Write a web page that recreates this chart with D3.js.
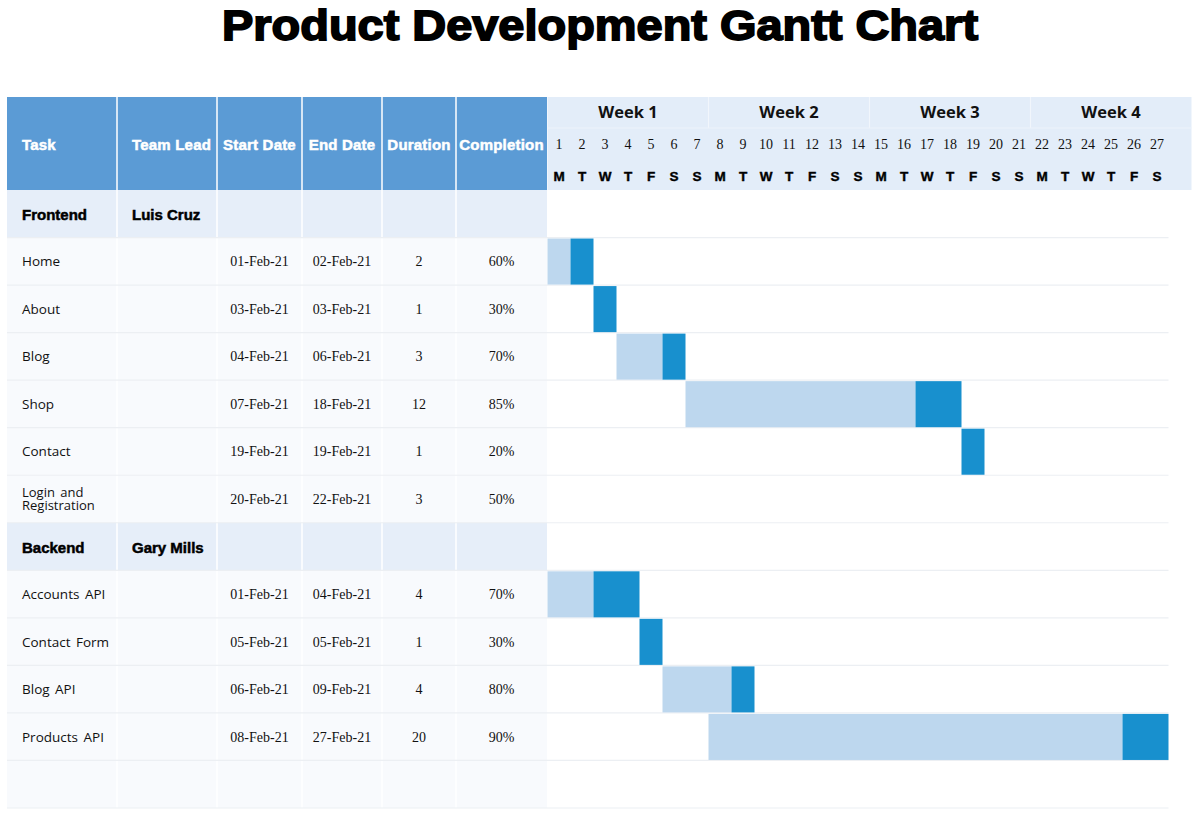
<!DOCTYPE html>
<html>
<head>
<meta charset="utf-8">
<script src="https://cdn.jsdelivr.net/npm/d3@7"></script>
<style>
  body { margin: 0; background: #fff; }
</style>
</head>
<body>
<div id="main"></div>
<script>
// chart data
const groupNames = ["Frontend", "Backend"];
const groupLeads = ["Luis Cruz", "Gary Mills"];
const taskNames = ["Home", "About", "Blog", "Shop", "Contact", "Login and Registration",
    "Accounts API", "Contact Form", "Blog API", "Products API"];
const taskGroup = [0, 0, 0, 0, 0, 0, 1, 1, 1, 1];
const startDay = [1, 3, 4, 7, 19, 20, 1, 5, 6, 8];
const endDay = [2, 3, 6, 18, 19, 22, 4, 5, 9, 27];
const durations = [2, 1, 3, 12, 1, 3, 4, 1, 4, 20];
const completion = [60, 30, 70, 85, 20, 50, 70, 30, 80, 90];
// bar as drawn in the picture: light part (done days) then dark part (remaining days)
// the "Login and Registration" row has no bar in the reference
const barDone = [1, 0, 2, 10, 0, null, 2, 0, 3, 18];
const barLeft = [1, 1, 1, 2, 1, null, 2, 1, 1, 2];

const columns = ["Task", "Team Lead", "Start Date", "End Date", "Duration", "Completion"];
const weeks = ["Week 1", "Week 2", "Week 3", "Week 4"];
const dayNumbers = [1, 2, 3, 4, 5, 6, 7, 8, 9, 10, 11, 12, 13, 14, 15, 16, 17, 18, 19, 20, 21, 22, 23, 24, 25, 26, 27];
const dayLetters = ["M", "T", "W", "T", "F", "S", "S", "M", "T", "W", "T", "F", "S", "S",
    "M", "T", "W", "T", "F", "S", "S", "M", "T", "W", "T", "F", "S"];

const width = 1200, height = 817;
const colEdges = [7, 117, 217, 302, 382, 456, 547];
const headTop = 97, headBottom = 190, tableBottom = 808;

const svg = d3.select("#main")
    .append("svg")
    .attr("width", width)
    .attr("height", height)
    .style("font-family", "'Liberation Sans', Arial, sans-serif");

// build row list: group header rows, task rows, one empty row at the end
let rows = [];
groupNames.forEach((g, gi) => {
    rows.push({ type: "group", name: g, lead: groupLeads[gi] });
    taskNames.forEach((t, i) => {
        if (taskGroup[i] === gi) rows.push({ type: "task", i: i });
    });
});
rows.push({ type: "empty" });

const y = d3.scaleBand()
    .domain(d3.range(rows.length))
    .range([headBottom, tableBottom]);

// day scale: day d occupies [x(d), x(d+1)]
const x = d3.scaleLinear()
    .domain([1, 29])
    .range([547.5, 547.5 + 28 * 23]);

const fmt = d3.timeFormat("%d-%b-%y");
const dateOf = d => fmt(new Date(2021, 1, d));

// title (heavy, slightly condensed)
svg.append("text")
    .attr("transform", "translate(600,39.5) scale(1,1.17)")
    .attr("text-anchor", "middle")
    .attr("textLength", 756)
    .attr("lengthAdjust", "spacingAndGlyphs")
    .style("font-size", "37px")
    .style("font-weight", "bold")
    .style("stroke", "#000")
    .style("stroke-width", 1.5)
    .text("Product Development Gantt Chart");

// table header
let head = svg.append("g");
head.append("rect")
    .attr("x", colEdges[0]).attr("y", headTop)
    .attr("width", colEdges[6] - colEdges[0]).attr("height", headBottom - headTop)
    .attr("fill", "#5b9bd5");

head.selectAll(".hdr")
    .data(columns)
    .join("text")
    .attr("class", "hdr")
    .attr("x", (d, i) => i < 2 ? colEdges[i] + 15 : (colEdges[i] + colEdges[i + 1]) / 2)
    .attr("y", (headTop + headBottom) / 2 + 6)
    .attr("text-anchor", (d, i) => i < 2 ? "start" : "middle")
    .style("font-size", "15px")
    .style("font-weight", "bold")
    .style("fill", "#fff")
    .style("stroke", "#fff")
    .style("stroke-width", 0.5)
    .style("letter-spacing", "0.2px")
    .text(d => d);

// timeline header
let tHead = svg.append("g");
tHead.append("rect")
    .attr("x", x(1)).attr("y", headTop)
    .attr("width", x(29) - x(1)).attr("height", headBottom - headTop)
    .attr("fill", "#e3edf9");

tHead.selectAll(".wkline")
    .data([8, 15, 22])
    .join("line")
    .attr("x1", d => x(d)).attr("x2", d => x(d))
    .attr("y1", headTop).attr("y2", 128)
    .style("stroke", "#f1f6fc").style("stroke-width", 1.2);

tHead.append("line")
    .attr("x1", x(1)).attr("x2", x(29))
    .attr("y1", 128).attr("y2", 128)
    .style("stroke", "#edf3fb").style("stroke-width", 1);

tHead.selectAll(".week")
    .data(weeks)
    .join("text")
    .attr("class", "week")
    .attr("x", (d, i) => (x(1 + i * 7) + x(8 + i * 7)) / 2)
    .attr("y", 118)
    .attr("text-anchor", "middle")
    .style("font-family", "'Open Sans', sans-serif")
    .style("font-size", "16.5px")
    .style("font-weight", "bold")
    .style("fill", "#111")
    .text(d => d);

tHead.selectAll(".dnum")
    .data(dayNumbers)
    .join("text")
    .attr("class", "dnum")
    .attr("x", d => x(d) + 11.5)
    .attr("y", 149)
    .attr("text-anchor", "middle")
    .style("font-family", "'Liberation Serif', 'Times New Roman', serif")
    .style("font-size", "14px")
    .style("fill", "#111")
    .text(d => d);

tHead.selectAll(".dlet")
    .data(dayLetters)
    .join("text")
    .attr("class", "dlet")
    .attr("x", (d, i) => x(dayNumbers[i]) + 11.5)
    .attr("y", 181)
    .attr("text-anchor", "middle")
    .style("font-size", "13.5px")
    .style("font-weight", "bold")
    .style("fill", "#000")
    .style("stroke", "#000")
    .style("stroke-width", 0.4)
    .text(d => d);

// row backgrounds
let body = svg.append("g");
body.selectAll(".rowbg")
    .data(rows)
    .join("rect")
    .attr("class", "rowbg")
    .attr("x", colEdges[0])
    .attr("y", (d, i) => y(i))
    .attr("width", colEdges[6] - colEdges[0])
    .attr("height", y.bandwidth())
    .attr("fill", d => d.type === "group" ? "#e6eef9" : "#f8fafd");

// column separators in table
body.selectAll(".colsep")
    .data(colEdges.slice(1, 6))
    .join("line")
    .attr("class", "colsep")
    .attr("x1", d => d).attr("x2", d => d)
    .attr("y1", headTop).attr("y2", tableBottom)
    .style("stroke", "#fff").style("stroke-width", 1.5);

// row separators
body.selectAll(".rowsep")
    .data(d3.range(1, rows.length + 1))
    .join("line")
    .attr("class", "rowsep")
    .attr("x1", colEdges[0]).attr("x2", x(28))
    .attr("y1", d => y(d - 1) + y.bandwidth()).attr("y2", d => y(d - 1) + y.bandwidth())
    .style("stroke", "#eceff3").style("stroke-width", 1.2);

// row texts
rows.forEach((r, ri) => {
    const cy = y(ri) + y.bandwidth() / 2 + 5;
    if (r.type === "group") {
        [r.name, r.lead].forEach((t, k) => {
            body.append("text")
                .attr("x", colEdges[k] + 15).attr("y", cy + 1)
                .style("font-size", "15px").style("font-weight", "bold")
                .style("stroke", "#000").style("stroke-width", 0.5)
                .text(t);
        });
    } else if (r.type === "task") {
        const i = r.i;
        let name = body.append("text")
            .attr("x", colEdges[0] + 15).attr("y", cy)
            .style("font-family", "'Open Sans', 'Noto Sans', sans-serif")
            .style("font-size", "13.5px")
            .style("word-spacing", "2px")
            .style("fill", "#111");
        const words = taskNames[i].split(" ");
        if (taskNames[i].length > 16) {
            // wrapped cell, tight line spacing like the spreadsheet
            name.append("tspan").attr("x", colEdges[0] + 15).attr("y", cy - 7.5)
                .style("font-size", "13px")
                .text(words.slice(0, 2).join(" "));
            name.append("tspan").attr("x", colEdges[0] + 15).attr("y", cy + 5.5)
                .style("font-size", "13px")
                .text(words.slice(2).join(" "));
        } else {
            name.text(taskNames[i]);
        }
        const cells = [dateOf(startDay[i]), dateOf(endDay[i]), durations[i], completion[i] + "%"];
        cells.forEach((c, ci) => {
            body.append("text")
                .attr("x", (colEdges[ci + 2] + colEdges[ci + 3]) / 2)
                .attr("y", cy)
                .attr("text-anchor", "middle")
                .style("font-family", "'Liberation Serif', 'Times New Roman', serif")
                .style("font-size", "14px")
                .style("fill", "#111")
                .text(c);
        });
    }
});

// gantt bars
let bars = svg.append("g");
rows.forEach((r, ri) => {
    if (r.type !== "task") return;
    const i = r.i;
    if (barDone[i] === null) return;
    const top = y(ri) + 1, h = y.bandwidth() - 1.5;
    if (barDone[i] > 0) {
        bars.append("rect")
            .attr("x", x(startDay[i])).attr("y", top)
            .attr("width", x(startDay[i] + barDone[i]) - x(startDay[i]))
            .attr("height", h)
            .attr("fill", "#bdd7ee");
    }
    bars.append("rect")
        .attr("x", x(startDay[i] + barDone[i])).attr("y", top)
        .attr("width", x(startDay[i] + barDone[i] + barLeft[i]) - x(startDay[i] + barDone[i]))
        .attr("height", h)
        .attr("fill", "#1890ce");
});
</script>
</body>
</html>
